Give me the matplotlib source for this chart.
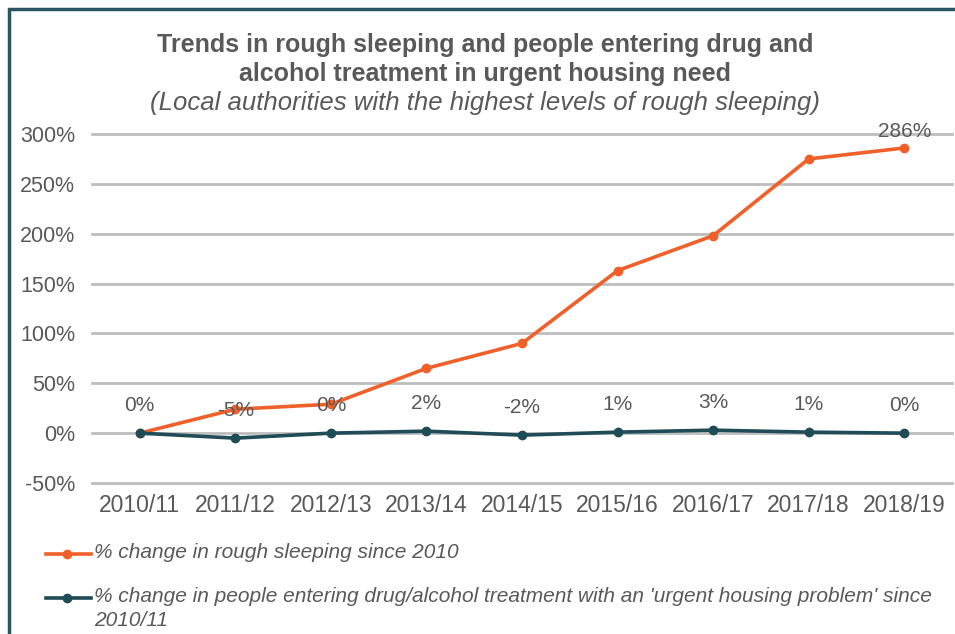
import matplotlib
matplotlib.use("Agg")
import matplotlib.pyplot as plt
from matplotlib.lines import Line2D
from matplotlib.patches import Rectangle

# data
years = ["2010/11", "2011/12", "2012/13", "2013/14", "2014/15",
         "2015/16", "2016/17", "2017/18", "2018/19"]
rough_sleeping = [0, 24, 29, 65, 90, 163, 198, 275, 286]
drug_alcohol = [0, -5, 0, 2, -2, 1, 3, 1, 0]
y_ticks = [-50, 0, 50, 100, 150, 200, 250, 300]

ORANGE = "#F0602A"
DARK = "#1F4C56"
GREY = "#595959"
GRID = "#BDBDBD"

plt.rcParams['font.family'] = ['Liberation Sans', 'DejaVu Sans']

fig = plt.figure(figsize=(9.55, 6.34), dpi=100)
W, H = 955.0, 634.0

# dark frame, only top and left edge visible
fig.add_artist(Rectangle((9 / W, -0.1), 1.2, 1 - 9 / H + 0.1, transform=fig.transFigure,
                         fill=False, edgecolor="#2B5560", linewidth=2.5))

ax = fig.add_axes([92 / W, 1 - 483 / H, 860 / W, 349 / H])
x = list(range(len(years)))

ax.plot(x, rough_sleeping, color=ORANGE, lw=2.6, marker="o", ms=6, zorder=3)
ax.plot(x, drug_alcohol, color=DARK, lw=2.6, marker="o", ms=6, zorder=4)

for i, v in enumerate(drug_alcohol):
    ax.annotate(f"{v}%", (i, v), xytext=(0, 20), textcoords="offset points",
                ha="center", va="center", color=GREY, fontsize=15)
ax.annotate(f"{rough_sleeping[-1]}%", (x[-1], rough_sleeping[-1]), xytext=(0, 12),
            textcoords="offset points", ha="center", va="center", color=GREY, fontsize=15)

ax.set_xlim(-0.5, len(years) - 0.5)
ax.set_ylim(-50, 300)
ax.set_xticks(x)
ax.set_xticklabels(years)
ax.set_yticks(y_ticks)
ax.set_yticklabels([f"{t}%" for t in y_ticks])
ax.tick_params(length=0, labelcolor=GREY)
ax.tick_params(axis="y", pad=12, labelsize=15.5)
ax.tick_params(axis="x", pad=8, labelsize=16.5)
for s in ax.spines.values():
    s.set_visible(False)
ax.grid(axis="y", color=GRID, lw=2)
for gl in ax.get_ygridlines():
    gl.set_clip_on(False)
ax.set_axisbelow(True)

# titles
fig.text(485 / W, 1 - 45 / H, "Trends in rough sleeping and people entering drug and",
         ha="center", va="center", color=GREY, fontsize=18, fontweight="bold")
fig.text(485 / W, 1 - 74 / H, "alcohol treatment in urgent housing need",
         ha="center", va="center", color=GREY, fontsize=18, fontweight="bold")
fig.text(485 / W, 1 - 103 / H, "(Local authorities with the highest levels of rough sleeping)",
         ha="center", va="center", color=GREY, fontsize=18.5, style="italic")

# legend drawn by hand so the wrapped label lines up like the original
legend_items = [
    (ORANGE, 554, ["% change in rough sleeping since 2010"]),
    (DARK, 598, ["% change in people entering drug/alcohol treatment with an 'urgent housing problem' since",
                 "2010/11"]),
]
for col, ypix, lines in legend_items:
    yf = 1 - ypix / H
    fig.add_artist(Line2D([46 / W, 91 / W], [yf, yf], transform=fig.transFigure,
                          color=col, lw=2.6))
    fig.add_artist(Line2D([67 / W], [yf], transform=fig.transFigure, color=col,
                          marker="o", ms=6))
    for k, line in enumerate(lines):
        fig.text(94 / W, 1 - (ypix - 1 + 24 * k) / H, line, ha="left", va="center",
                 color=GREY, fontsize=15, style="italic")

fig.savefig("out.png", dpi=100)
